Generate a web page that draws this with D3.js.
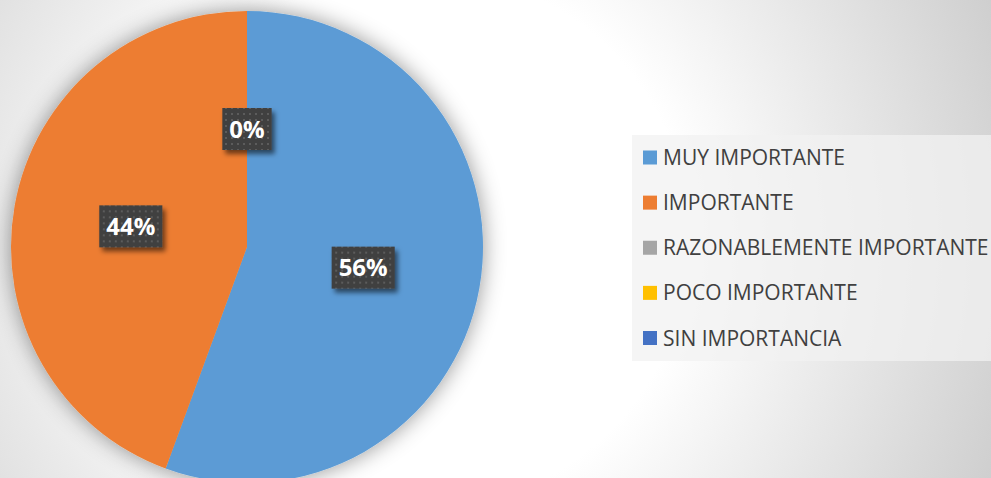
<!DOCTYPE html>
<html>
<head>
<meta charset="utf-8">
<script src="https://cdn.jsdelivr.net/npm/d3@7"></script>
<style>
  html, body { margin: 0; padding: 0; overflow: hidden; }
  svg { display: block; }
</style>
</head>
<body>
<div id="chart"></div>
<script>
// Data
var categories = ["MUY IMPORTANTE", "IMPORTANTE", "RAZONABLEMENTE IMPORTANTE", "POCO IMPORTANTE", "SIN IMPORTANCIA"];
var values = [55.6, 44.4, 0, 0, 0];
var colors = ["#5B9BD5", "#ED7D31", "#A5A5A5", "#FFC000", "#4472C4"];

var WIDTH = 991, HEIGHT = 478;
var CX = 247, CY = 247, RADIUS = 236;

var svg = d3.select("#chart")
            .append("svg")
              .attr("width", WIDTH)
              .attr("height", HEIGHT);

var defs = svg.append("defs");

// Background gradient
var bg = defs.append("radialGradient")
             .attr("id", "bg")
             .attr("gradientUnits", "userSpaceOnUse")
             .attr("cx", 420).attr("cy", 240).attr("r", 640);
bg.append("stop").attr("offset", "0").attr("stop-color", "#ffffff");
bg.append("stop").attr("offset", "0.42").attr("stop-color", "#ffffff");
bg.append("stop").attr("offset", "1").attr("stop-color", "#cccccc");

// Soft shadow round the pie
var pieShadow = defs.append("filter").attr("id", "pieShadow")
                    .attr("x", "-20%").attr("y", "-20%").attr("width", "140%").attr("height", "140%");
pieShadow.append("feDropShadow")
         .attr("dx", 0).attr("dy", 0).attr("stdDeviation", 11)
         .attr("flood-color", "#000").attr("flood-opacity", 0.42);

// Shadow under the label boxes
var boxShadow = defs.append("filter").attr("id", "boxShadow")
                    .attr("x", "-30%").attr("y", "-30%").attr("width", "160%").attr("height", "160%");
boxShadow.append("feDropShadow")
         .attr("dx", 3).attr("dy", 4).attr("stdDeviation", 2.5)
         .attr("flood-color", "#000").attr("flood-opacity", 0.55);

// Dotted fill of the label boxes
var dots = defs.append("pattern").attr("id", "dots")
               .attr("patternUnits", "userSpaceOnUse")
               .attr("width", 6).attr("height", 6);
dots.append("rect").attr("width", 6).attr("height", 6).attr("fill", "#404040");
dots.append("rect").attr("x", 2).attr("y", 2).attr("width", 2).attr("height", 2).attr("fill", "#5c5c5c");

svg.append("rect")
   .attr("width", WIDTH).attr("height", HEIGHT)
   .attr("fill", "url(#bg)");

// Pie
var pie = d3.pie().sort(null).value(function (d) { return d; });
var arcs = pie(values);
var total = d3.sum(values);

var arc = d3.arc().innerRadius(0).outerRadius(RADIUS);

var pieG = svg.append("g")
              .attr("transform", "translate(" + CX + "," + CY + ")");

pieG.append("g")
    .attr("filter", "url(#pieShadow)")
  .selectAll("path")
  .data(arcs)
  .enter()
  .append("path")
    .attr("d", arc)
    .attr("fill", function (d, i) { return colors[i]; });

// Data labels (skip ones that land on the same spot)
var seen = {};
var labels = [];
arcs.forEach(function (d) {
  var c = arc.centroid(d);
  var key = Math.round(c[0]) + "," + Math.round(c[1]);
  if (seen[key]) return;
  seen[key] = true;
  labels.push({pos: c, text: Math.round(d.value / total * 100) + "%"});
});

labels.forEach(function (l) {
  var g = pieG.append("g")
              .attr("transform", "translate(" + l.pos[0] + "," + l.pos[1] + ")");
  var box = g.append("rect");
  var txt = g.append("text")
             .attr("text-anchor", "middle")
             .attr("dy", "0.36em")
             .attr("font-family", "'Open Sans', sans-serif")
             .attr("font-weight", "bold")
             .attr("font-size", 24)
             .attr("fill", "#ffffff")
             .text(l.text);
  var bb = txt.node().getBBox();
  var w = bb.width + 14, h = 42;
  box.attr("x", -w / 2).attr("y", -h / 2)
     .attr("width", w).attr("height", h)
     .attr("fill", "url(#dots)")
     .attr("filter", "url(#boxShadow)");
});

// Legend
var legend = svg.append("g");
legend.append("rect")
      .attr("x", 632).attr("y", 135)
      .attr("width", WIDTH - 632).attr("height", 226)
      .attr("fill", "#f2f2f2")
      .attr("fill-opacity", 0.75);

var rowY = d3.scalePoint()
             .domain(categories)
             .range([157.5, 338]);

var items = legend.selectAll("g.item")
                  .data(categories)
                  .enter()
                  .append("g")
                    .attr("class", "item")
                    .attr("transform", function (d) { return "translate(643," + rowY(d) + ")"; });

items.append("rect")
     .attr("x", 0).attr("y", -7)
     .attr("width", 14).attr("height", 14)
     .attr("fill", function (d, i) { return colors[i]; });

items.append("text")
     .attr("x", 20)
     .attr("dy", "0.36em")
     .attr("font-family", "'Open Sans', sans-serif")
     .attr("font-size", 21)
     .attr("fill", "#404040")
     .text(function (d) { return d; });
</script>
</body>
</html>
